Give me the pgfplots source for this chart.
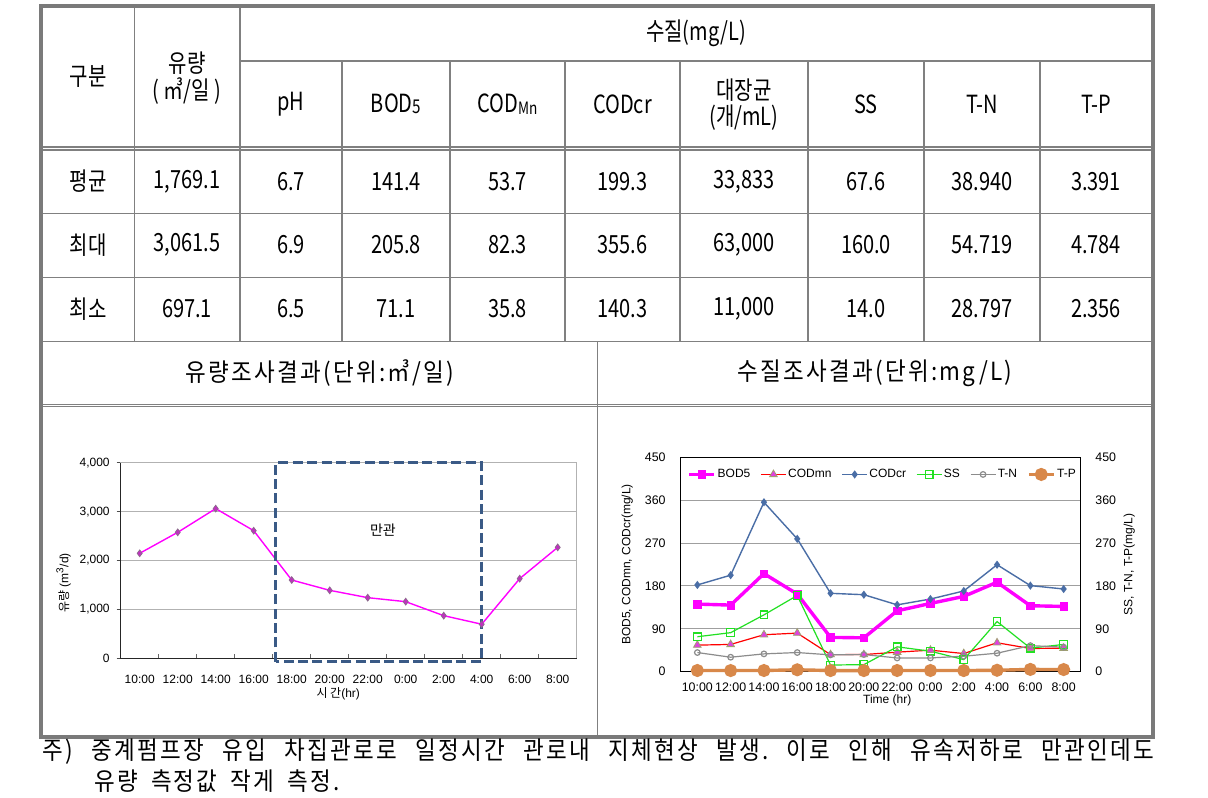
\documentclass[border=0pt]{standalone}
\usepackage{fontspec}
\setmainfont{Liberation Sans}
\newfontfamily\kr{Noto Sans CJK KR}
\newfontfamily\tb[FakeStretch=0.8]{Noto Sans CJK KR}
\newfontfamily\nt[FakeStretch=0.9,LetterSpace=9]{Noto Sans CJK KR}
\usepackage{pgfplots}
\pgfplotsset{compat=1.18}
\pgfplotsset{/pgf/number format/assume math mode=true}
\frenchspacing
\definecolor{magentaL}{HTML}{FF00FF}
\definecolor{diafill}{HTML}{C030C0}
\definecolor{diadraw}{HTML}{8A6A8A}
\definecolor{dashblue}{HTML}{3A5A86}
\definecolor{codcr}{HTML}{4A6EA6}
\definecolor{ssgreen}{HTML}{22E022}
\definecolor{tngray}{HTML}{8C8C8C}
\definecolor{tporange}{HTML}{D8884A}
\definecolor{trifill}{HTML}{E040E0}
\definecolor{tridraw}{HTML}{A0A070}
\definecolor{tline}{HTML}{808080}
\definecolor{tborder}{HTML}{7A7A7A}
\newcommand{\T}{\tb\fontsize{12.5}{14}\selectfont}
\newcommand{\N}{\nt\fontsize{12.5}{14}\selectfont}
\begin{document}
\begin{tikzpicture}
\path[use as bounding box, fill=white] (0,0) rectangle (604pt,398.5pt);
\begin{scope}[x=0.5pt,y=-0.5pt,shift={(0pt,398.5pt)}]
% inner lines
\begin{scope}[draw=tline, line width=0.55pt]
\draw (240,61) -- (1152.7,61);
\draw (41.3,147) -- (1152.7,147);
\draw (41.3,150) -- (1152.7,150);
\draw (41.3,213.3) -- (1152.7,213.3);
\draw (41.3,277.3) -- (1152.7,277.3);
\draw (41.3,341.3) -- (1152.7,341.3);
\draw (41.3,404.3) -- (1152.7,404.3);
\draw (41.3,406.8) -- (1152.7,406.8);
\draw (134.3,6) -- (134.3,341.3);
\draw (240,6) -- (240,341.3);
\foreach \xx in {342,450,565,680,808,924,1040} {\draw (\xx,61) -- (\xx,341.3);}
\draw (597.7,341.3) -- (597.7,737.3);
\end{scope}
\draw[tborder, line width=2pt] (41.3,6) rectangle (1152.7,737.3);
% header
\node[font=\T] at (88,77) {구분};
\node[font=\T] at (187,63) {유량};
\node[font=\T] at (187,91) {(\,㎥/일\,)};
\node[font=\T] at (696,33) {수질(mg/L)};
\node[font=\T] at (291,104) {pH};
\node[font=\T] at (396,104) {BOD\raisebox{-0.8pt}{\fontsize{9.5}{10}\selectfont 5}};
\node[font=\T] at (507.5,104) {COD\raisebox{-0.8pt}{\fontsize{8.5}{9}\selectfont Mn}};
\node[font=\T] at (622.5,104) {CODcr};
\node[font=\T] at (744,90) {대장균};
\node[font=\T] at (744,118) {(개/mL)};
\node[font=\T] at (866,104) {SS};
\node[font=\T] at (982,104) {T-N};
\node[font=\T] at (1096,104) {T-P};
% rows
\foreach \yy/\a/\b/\c/\d/\e/\f/\g/\h/\i/\j in {
181.5/평균/{1,769.1}/6.7/141.4/53.7/199.3/{33,833}/67.6/38.940/3.391,
245/최대/{3,061.5}/6.9/205.8/82.3/355.6/{63,000}/160.0/54.719/4.784,
309/최소/697.1/6.5/71.1/35.8/140.3/{11,000}/14.0/28.797/2.356}{
\node[font=\T] at (88,\yy) {\a};
\node[font=\T] at (187,\yy) {\b};
\node[font=\T] at (291,\yy) {\c};
\node[font=\T] at (396,\yy) {\d};
\node[font=\T] at (507.5,\yy) {\e};
\node[font=\T] at (622.5,\yy) {\f};
\node[font=\T] at (744,\yy) {\g};
\node[font=\T] at (866,\yy) {\h};
\node[font=\T] at (982,\yy) {\i};
\node[font=\T] at (1096,\yy) {\j};
}
\node[font=\N] at (320,373) {유량조사결과(단위:㎥/일)};
\node[font=\N] at (875,373) {수질조사결과(단위:mg/L)};
% note
\node[font=\N, anchor=west, inner sep=0pt] at (42,752) {\makebox[556pt][s]{주) 중계펌프장 유입 차집관로로 일정시간 관로내 지체현상 발생. 이로 인해 유속저하로 만관인데도}};
\node[font=\N, anchor=west, inner sep=0pt] at (94,781) {\makebox[122.5pt][s]{유량 측정값 작게 측정.}};
\end{scope}

% ---------- flow chart ----------
\begin{axis}[
  at={(60.35pt,69.35pt)}, anchor=south west,
  scale only axis, width=228pt, height=97.8pt,
  xmin=-0.5, xmax=11.5, ymin=0, ymax=4000,
  xtick={0,...,11},
  xticklabels={10:00,12:00,14:00,16:00,18:00,20:00,22:00,0:00,2:00,4:00,6:00,8:00},
  ytick={0,1000,2000,3000,4000},
  yticklabel style={/pgf/number format/1000 sep={,}},
  ymajorgrids, grid style={gray!60, line width=0.5pt},
  axis line style={draw=gray!60, line width=0.5pt},
  tick align=outside, major tick length=2pt,
  tick style={black!70, line width=0.5pt},
  xtick style={draw=none},
  ytick pos=left, xtick pos=bottom,
  extra x ticks={0.5,1.5,...,10.5}, extra x tick labels={},
  extra x tick style={tick align=inside, xtick style={draw=black!60}, grid=none},
  ticklabel style={font=\fontsize{6}{7}\selectfont},
  xticklabel style={yshift=-3pt},
  xlabel={{\kr 시 간}(hr)}, ylabel={{\kr 유량} (m\textsuperscript{3}/d)},
  label style={font=\fontsize{6}{7}\selectfont},
  xlabel style={at={(axis description cs:0.477,-0.18)}, anchor=center},
  ylabel style={at={(axis description cs:-0.125,0.385)}, anchor=center},
  clip=false,
]
\addplot[color=magentaL, line width=0.7pt, mark=diamond*, mark size=1.7pt,
  mark options={fill=diafill, draw=diadraw, line width=0.35pt}]
  coordinates {(0,2147)(1,2576)(2,3061.5)(3,2610)(4,1601)(5,1390)(6,1240)(7,1158)(8,872)(9,697.1)(10,1629)(11,2269)};
\draw[black!85, line width=0.6pt] (rel axis cs:0,1) -- (rel axis cs:0,0) -- (rel axis cs:1,0);
\draw[dashblue, line width=1.5pt, dash pattern=on 5pt off 2.2pt] (axis cs:3.58,-70) rectangle (axis cs:9,4000);
\node[font=\kr\fontsize{7}{8}\selectfont] at (axis cs:6.4,2620) {만관};
\end{axis}

% ---------- water quality chart ----------
\begin{axis}[
  at={(340.35pt,62.65pt)}, anchor=south west,
  scale only axis, width=199.8pt, height=107.2pt,
  xmin=-0.5, xmax=11.5, ymin=0, ymax=450,
  xtick={0,...,11},
  xticklabels={10:00,12:00,14:00,16:00,18:00,20:00,22:00,0:00,2:00,4:00,6:00,8:00},
  ytick={0,90,...,450},
  ymajorgrids, grid style={gray!75, line width=0.5pt},
  axis line style={black, line width=0.5pt},
  major tick length=0pt, ytick pos=left, xtick pos=bottom,
  ticklabel style={font=\fontsize{6.2}{7}\selectfont},
  xticklabel style={yshift=-2pt},
  yticklabel style={xshift=-4pt},
  xlabel={Time (hr)}, ylabel={BOD5, CODmn, CODcr(mg/L)},
  label style={font=\fontsize{6}{7}\selectfont},
  xlabel style={at={(axis description cs:0.517,-0.133)}, anchor=center},
  ylabel style={at={(axis description cs:-0.134,0.5)}, anchor=center},
  legend columns=6,
  legend style={at={(rel axis cs:0.505,0.92)}, anchor=center, draw=none, fill=none,
    font=\fontsize{6}{7}\selectfont, inner sep=0pt,
    nodes={inner sep=0.8pt},
    /tikz/every even column/.append style={column sep=4.2pt}},
  legend image code/.code={\draw[mark repeat=2,mark phase=2,#1] plot coordinates {(0pt,0pt)(6.25pt,0pt)(12.5pt,0pt)};},
  clip=false,
]
\addplot[color=magentaL, line width=1.7pt, mark=square*, mark size=1.9pt, mark options={line width=0.3pt}]
  coordinates {(0,141.9)(1,139.8)(2,205.8)(3,163)(4,72)(5,71.1)(6,127.8)(7,143.3)(8,158)(9,187.8)(10,138.4)(11,137)};
\addlegendentry{BOD5}
\addplot[color=red, line width=0.6pt, mark=triangle*, mark size=2.2pt, mark options={fill=trifill, draw=tridraw, line width=0.4pt}]
  coordinates {(0,55.8)(1,57.2)(2,77.6)(3,81)(4,35.8)(5,36)(6,41)(7,45.2)(8,38.1)(9,60.7)(10,48.7)(11,49.4)};
\addlegendentry{CODmn}
\addplot[color=codcr, line width=0.7pt, mark=diamond*, mark size=1.5pt]
  coordinates {(0,182.1)(1,202.6)(2,355.6)(3,278.8)(4,164.5)(5,161.6)(6,140.3)(7,152.5)(8,169.4)(9,224.5)(10,180.7)(11,173.6)};
\addlegendentry{CODcr}
\addplot[color=ssgreen, line width=0.6pt, mark=square, mark size=1.9pt, mark options={fill=white}]
  coordinates {(0,73.4)(1,81.9)(2,119.3)(3,160)(4,14)(5,14.8)(6,52.2)(7,43)(8,25.4)(9,105.2)(10,49.4)(11,57.2)};
\addlegendentry{SS}
\addplot[color=tngray, line width=0.6pt, mark=o, mark size=1.4pt, mark options={fill=white}]
  coordinates {(0,40.2)(1,30.4)(2,37.4)(3,40.2)(4,35.3)(5,36)(6,28.8)(7,28.9)(8,32.5)(9,38.8)(10,54.7)(11,51.5)};
\addlegendentry{T-N}
\addplot[color=tporange, line width=1.7pt, mark=*, mark size=2.4pt]
  coordinates {(0,2.5)(1,2.4)(2,2.5)(3,4.0)(4,2.4)(5,2.4)(6,2.5)(7,2.5)(8,2.4)(9,3.0)(10,4.8)(11,4.5)};
\addlegendentry{T-P}
\end{axis}
\begin{axis}[
  at={(340.35pt,62.65pt)}, anchor=south west,
  scale only axis, width=199.8pt, height=107.2pt,
  xmin=-0.5, xmax=11.5, ymin=0, ymax=450,
  axis x line=none, axis y line*=right,
  ytick={0,90,...,450}, major tick length=0pt,
  axis line style={black, line width=0.5pt},
  ticklabel style={font=\fontsize{6.2}{7}\selectfont},
  yticklabel style={xshift=4pt},
  ylabel={SS, T-N, T-P(mg/L)},
  label style={font=\fontsize{6}{7}\selectfont},
  ylabel style={at={(axis description cs:1.1226,0.5)}, anchor=center},
]
\end{axis}
\end{tikzpicture}
\end{document}
